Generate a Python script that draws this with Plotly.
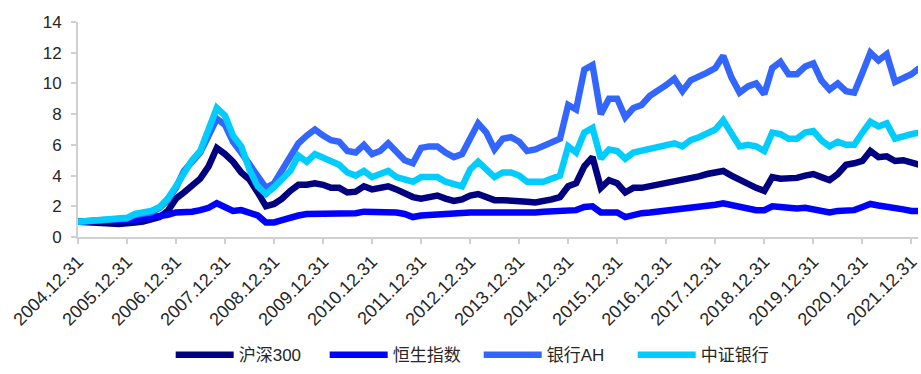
import pandas as pd
import plotly.graph_objects as go

# bi-monthly observation dates, 2004-12-31 .. 2022-02-28
dates = pd.date_range("2004-12-31", periods=104, freq="2ME")

hs300 = [
    1.0,
    0.95, 0.9, 0.85, 0.88, 0.85, 0.95,
    0.95, 1.0, 1.1, 1.3, 1.7, 2.5,
    2.9, 3.4, 3.8, 4.6, 5.8, 5.4,
    4.9, 4.2, 3.75, 2.9, 2.0, 2.15,
    2.5, 3.0, 3.4, 3.4, 3.5, 3.4,
    3.2, 3.2, 2.9, 2.95, 3.3, 3.1,
    3.2, 3.3, 3.1, 2.8, 2.6, 2.5,
    2.6, 2.7, 2.5, 2.35, 2.45, 2.7,
    2.8, 2.6, 2.4, 2.4, 2.4, 2.35,
    2.3, 2.25, 2.3, 2.45, 2.6, 3.3,
    3.5, 4.6, 5.2, 3.2, 3.7, 3.5,
    2.9, 3.2, 3.2, 3.3, 3.4, 3.55,
    3.6, 3.65, 3.8, 3.95, 4.1, 4.2,
    4.3, 4.0, 3.7, 3.4, 3.2, 3.0,
    3.9, 3.8, 3.8, 3.85, 4.0, 4.1,
    3.9, 3.7, 4.1, 4.7, 4.8, 4.95,
    5.6, 5.2, 5.25, 4.95, 5.0, 4.85,
    4.7,
]

hsi = [
    1.0,
    1.0, 1.02, 1.05, 1.08, 1.1, 1.12,
    1.1, 1.2, 1.25, 1.35, 1.45, 1.6,
    1.6, 1.65, 1.75, 1.9, 2.2, 1.95,
    1.7, 1.75, 1.6, 1.4, 0.95, 0.95,
    1.1, 1.3, 1.4, 1.5, 1.5, 1.55,
    1.5, 1.55, 1.6, 1.55, 1.65, 1.65,
    1.65, 1.7, 1.6, 1.5, 1.3, 1.4,
    1.45, 1.5, 1.5, 1.5, 1.55, 1.6,
    1.6, 1.6, 1.5, 1.55, 1.6, 1.6,
    1.55, 1.6, 1.65, 1.7, 1.7, 1.7,
    1.75, 1.95, 2.0, 1.6, 1.6, 1.6,
    1.3, 1.45, 1.55, 1.6, 1.65, 1.7,
    1.75, 1.8, 1.85, 1.95, 2.0, 2.1,
    2.2, 2.1, 2.0, 1.8, 1.75, 1.75,
    2.0, 1.95, 1.85, 1.85, 1.9, 1.8,
    1.65, 1.6, 1.7, 1.7, 1.75, 1.95,
    2.15, 2.05, 2.0, 1.85, 1.8, 1.7,
    1.7,
]

bank_ah = [
    1.0,
    1.05, 1.05, 1.05, 1.1, 1.15, 1.2,
    1.45, 1.55, 1.6, 1.9, 2.4, 3.2,
    4.3, 4.9, 5.5, 6.6, 7.7, 7.3,
    6.2, 5.5, 4.75, 4.0, 3.2, 3.5,
    4.3, 5.3, 6.1, 6.6, 7.0, 6.6,
    6.3, 6.2, 5.6, 5.5, 6.0, 5.4,
    5.6, 6.1, 5.6, 5.0, 4.8, 5.8,
    5.9, 5.9, 5.5, 5.2, 5.4, 6.4,
    7.4, 6.8, 5.7, 6.4, 6.5, 6.2,
    5.6, 5.7, 5.9, 6.2, 6.4, 8.6,
    8.3, 10.9, 11.2, 8.0, 9.0, 9.0,
    7.8, 8.4, 8.6, 9.2, 9.5, 9.9,
    10.3, 9.5, 10.2, 10.4, 10.7, 11.0,
    11.8, 10.4, 9.4, 9.8, 10.0, 9.3,
    11.0, 11.4, 10.6, 10.6, 11.1, 11.3,
    10.2, 9.6, 10.0, 9.5, 9.4, 10.7,
    12.0, 11.5, 11.9, 10.1, 10.3, 10.6,
    11.0,
]

csi_bank = [
    1.0,
    1.05, 1.05, 1.05, 1.15, 1.2, 1.25,
    1.5, 1.6, 1.7, 1.95, 2.5, 3.3,
    4.1, 5.0, 5.6, 7.0, 8.4, 7.9,
    6.6, 5.9, 4.4, 3.3, 2.8, 3.25,
    3.8, 4.3, 5.3, 4.9, 5.4, 5.2,
    4.9, 4.7, 4.2, 4.0, 4.3, 3.9,
    4.1, 4.3, 3.9, 3.7, 3.6, 3.9,
    3.9, 3.9, 3.6, 3.4, 3.3, 4.4,
    4.9, 4.4, 3.9, 4.2, 4.2, 4.0,
    3.6, 3.6, 3.6, 3.8, 4.0, 5.9,
    5.5, 6.8, 7.1, 5.1, 5.7, 5.6,
    5.1, 5.5, 5.6, 5.8, 5.85, 6.0,
    6.1, 5.9, 6.3, 6.5, 6.7, 7.0,
    7.6, 6.7, 5.9, 6.0, 5.9, 5.6,
    6.8, 6.7, 6.4, 6.4, 6.8, 6.9,
    6.3, 5.9, 6.2, 6.0, 6.0, 6.8,
    7.5, 7.2, 7.4, 6.4, 6.6, 6.7,
    6.8,
]

series_names = ["沪深300", "恒生指数", "银行AH", "中证银行"]
series_values = [hs300, hsi, bank_ah, csi_bank]
series_colors = ["#000080", "#0000FF", "#3366FF", "#00CCFF"]

tick_years = list(range(2004, 2022))
tick_vals = [f"{y}-12-31" for y in tick_years]
tick_text = [f"{y}.12.31" for y in tick_years]

fig = go.Figure()
for name, vals, col in zip(series_names, series_values, series_colors):
    fig.add_trace(go.Scatter(
        x=dates, y=vals, name=name, mode="lines",
        line=dict(color=col, width=6.5, shape="linear"),
    ))

axis_col = "#D0D0D0"
fig.update_layout(
    width=921, height=374,
    margin=dict(l=78, r=0, t=22, b=136),
    paper_bgcolor="white", plot_bgcolor="white",
    font=dict(family="Liberation Sans, Arial, Noto Sans CJK SC", color="#262626"),
    showlegend=True,
    legend=dict(
        orientation="h", x=0.477, xanchor="center", y=-0.55, yanchor="middle",
        font=dict(size=17, color="#262626"), itemwidth=58,
        entrywidth=81, entrywidthmode="pixels",
        bgcolor="rgba(0,0,0,0)",
    ),
    xaxis=dict(
        type="date", range=["2004-12-31", "2022-02-18"],
        tickmode="array", tickvals=tick_vals, ticktext=tick_text,
        tickangle=-45, tickfont=dict(size=18),
        ticklabeloverflow="allow",
        showgrid=False, zeroline=False,
        showline=True, linecolor=axis_col, linewidth=2,
        ticks="outside", ticklen=5, tickcolor=axis_col, tickwidth=2,
    ),
    yaxis=dict(
        range=[0, 14], tickmode="array", tickvals=list(range(0, 15, 2)),
        tickfont=dict(size=17), ticklabelstandoff=6,
        showgrid=False, zeroline=False,
        showline=True, linecolor=axis_col, linewidth=2,
        ticks="outside", ticklen=5, tickcolor=axis_col, tickwidth=2,
    ),
)

fig.write_html("out.html")
